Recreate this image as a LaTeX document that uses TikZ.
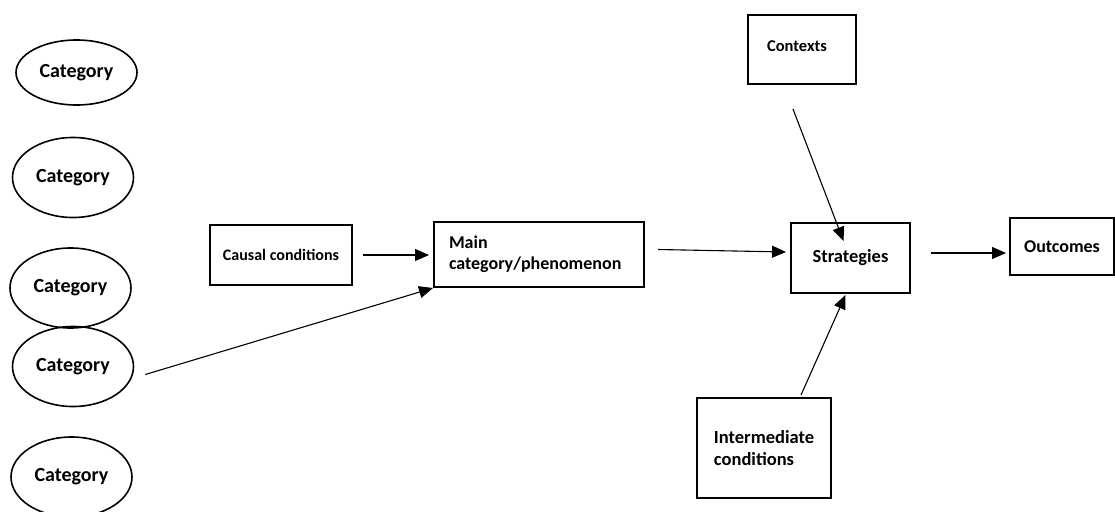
\documentclass[tikz,border=0pt]{standalone}
\usepackage{fontspec}
\setmainfont{Carlito}
\usetikzlibrary{arrows.meta,shapes.geometric,calc}

\begin{document}
\begin{tikzpicture}[x=1pt,y=-1pt,
    cat/.style={ellipse,draw,line width=1.6pt,minimum width=121pt,minimum height=80pt,
        inner sep=0pt,font=\bfseries\fontsize{20}{22}\selectfont},
    box/.style={rectangle,draw,line width=2pt,inner sep=0pt,
        font=\bfseries\fontsize{16}{20}\selectfont},
    arr/.style={line width=1.1pt,-{Triangle[length=14pt,width=12pt]}}
    ]
    \useasboundingbox (0,0) rectangle (1115,511);
    % categories on the left
    \node[cat,minimum height=65pt] (cat1) at (76.5,72.5) {Category};
    \node[cat] (cat2) at (73,177.5) {Category};
    \node[cat] (cat3) at (70.5,288) {Category};
    \node[cat] (cat4) at (73,366.5) {Category};
    \node[cat] (cat5) at (71.5,477) {Category};
    % boxes
    \node[box,minimum width=142pt,minimum height=60pt] (causal) at (281,255) {Causal conditions};
    \node[box,minimum width=210pt,minimum height=65pt,text width=180pt,align=left,
        inner xsep=15pt,font=\bfseries\fontsize{18}{21}\selectfont] (main) at (539,254.5)
        {Main\\category/phenomenon};
    \node[box,minimum width=119pt,minimum height=70pt,
        font=\bfseries\fontsize{18.5}{20}\selectfont] (strat) at (850.5,258) {Strategies};
    \node[box,minimum width=104pt,minimum height=57pt,
        font=\bfseries\fontsize{18}{20}\selectfont] (outc) at (1062,246.5) {Outcomes};
    \node[box,minimum width=108pt,minimum height=69pt,font=\bfseries\fontsize{16.5}{20}\selectfont]
        (ctx) at (802,49.5) {\raisebox{6pt}{Contexts}\rule{10pt}{0pt}};
    \node[box,minimum width=134pt,minimum height=100pt,align=left,
        font=\bfseries\fontsize{18.5}{22}\selectfont] (inter) at (764,448)
        {Intermediate\\conditions};
    % free ends of the connectors
    \coordinate (c4out) at ($(cat4.east)+(11,8)$);
    \coordinate (ctxout) at ($(ctx.south)+(-9,24)$);
    \coordinate (intout) at ($(inter.north)+(37,-2)$);
    % connectors
    \draw[arr,shorten <=10pt,shorten >=4pt] (causal.east) -- (causal.east -| main.west);
    \draw[arr] (c4out) -- (main.south west);
    \draw[arr] ($(main.east)+(13,-5)$) -- ($(strat.west)+(-4,-6)$);
    \draw[arr] (ctxout) -- ($(strat.north)+(-7,19)$);
    \draw[arr] (intout) -- ($(strat.south)+(-5,1)$);
    \draw[arr] ($(strat.east)+(20,-5)$) -- ($(outc.west)+(-3,6.5)$);
\end{tikzpicture}
\end{document}
